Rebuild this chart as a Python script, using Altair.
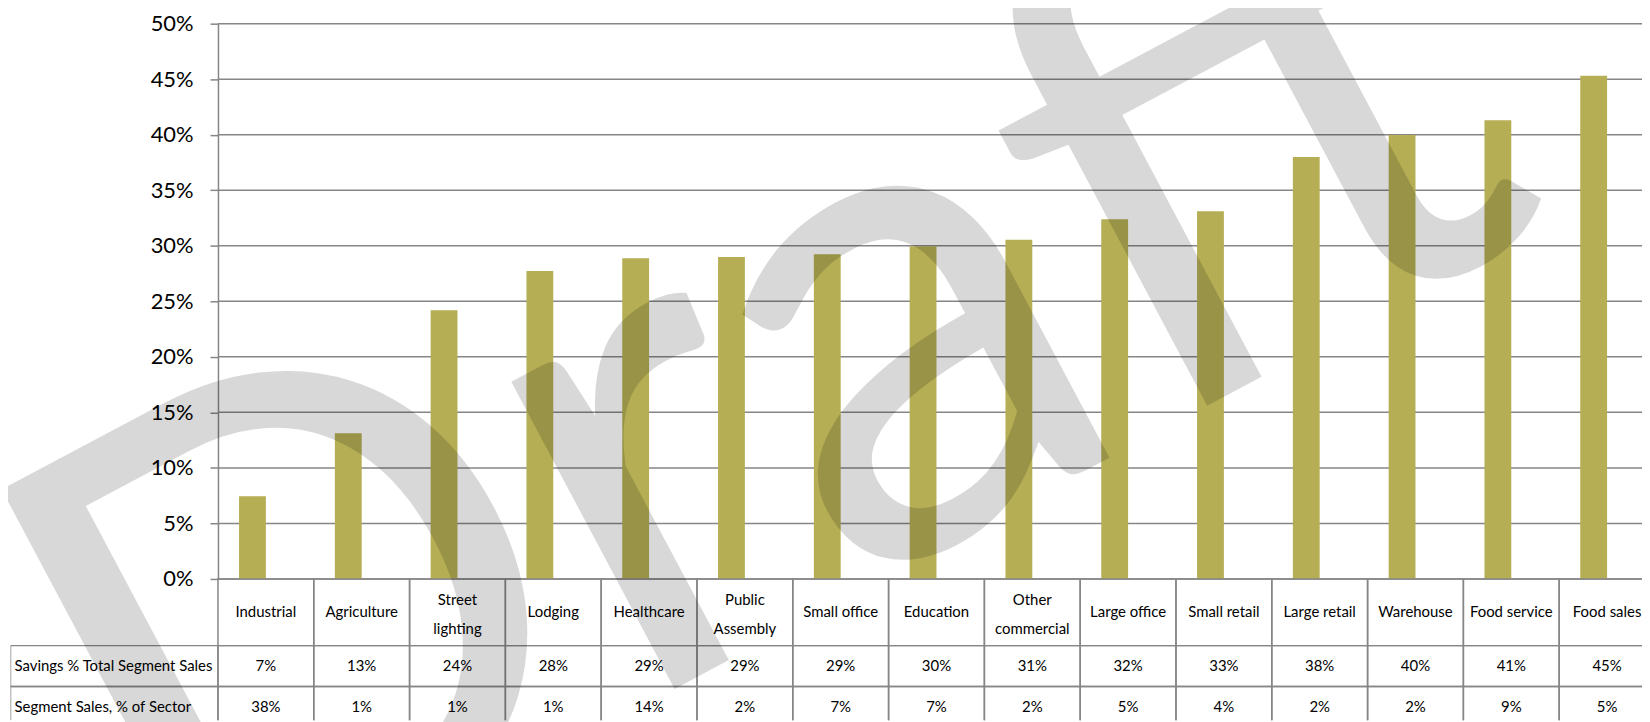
import altair as alt
import pandas as pd

# ---------------- data ----------------
categories = ["Industrial", "Agriculture", "Street lighting", "Lodging", "Healthcare",
              "Public Assembly", "Small office", "Education", "Other commercial",
              "Large office", "Small retail", "Large retail", "Warehouse",
              "Food service", "Food sales"]
category_labels = ["Industrial", "Agriculture", "Street\nlighting", "Lodging", "Healthcare",
                   "Public\nAssembly", "Small office", "Education", "Other\ncommercial",
                   "Large office", "Small retail", "Large retail", "Warehouse",
                   "Food service", "Food sales"]
savings_share = [0.0744, 0.1312, 0.242, 0.2774, 0.2888, 0.290, 0.2924, 0.2995,
                 0.3055, 0.324, 0.331, 0.380, 0.3997, 0.413, 0.453]
savings_row = ["7%", "13%", "24%", "28%", "29%", "29%", "29%", "30%", "31%",
               "32%", "33%", "38%", "40%", "41%", "45%"]
segment_row = ["38%", "1%", "1%", "1%", "14%", "2%", "7%", "7%", "2%",
               "5%", "4%", "2%", "2%", "9%", "5%"]
row_names = ["Savings % Total Segment Sales", "Segment Sales, % of Sector"]
y_tick_values = [0.0, 0.05, 0.10, 0.15, 0.20, 0.25, 0.30, 0.35, 0.40, 0.45, 0.50]
watermark = "Draft"

# ---------------- layout / style ----------------
COL_PX = 96.27          # width of one category column
AXIS_PX = 208.5         # width of the row-label column (left of the value axis)
WIDTH = 1639.5
HEIGHT = 700
PLOT_PX = 558           # height of the bar area
ROW_PX = 41             # height of one value row in the table
CAT_ROW = 67 / ROW_PX   # category row height in row units
LINE_H = 29             # line height of wrapped category names
X_MIN = -AXIS_PX / COL_PX
X_MAX = X_MIN + WIDTH / COL_PX
T_MAX = (HEIGHT - PLOT_PX) / ROW_PX
BAR_LO, BAR_HI = 0.22, 0.50

BAR_COLOR = "#B5AE54"
LINE_COLOR = "#868686"
FONT = "Lato"

x_scale = alt.Scale(domain=[X_MIN, X_MAX], nice=False, zero=False)
y_bar_scale = alt.Scale(domain=[0, 0.5], range=[PLOT_PX, 0], nice=False)
y_tab_scale = alt.Scale(domain=[0, T_MAX], range=[PLOT_PX, HEIGHT], nice=False, zero=False)

y_axis = alt.Axis(values=y_tick_values, format=".0%", offset=-AXIS_PX, orient="left",
                  grid=False, domainColor=LINE_COLOR, domainWidth=1.5,
                  tickColor=LINE_COLOR, tickWidth=1.5, tickSize=8,
                  labelFont=FONT, labelFontSize=22, labelColor="#000000",
                  labelPadding=17, title=None)

# ---------------- bars + gridlines ----------------
n = len(categories)
bars_df = pd.DataFrame({"category": categories, "value": savings_share, "i": range(n)})
bars_df["x0"] = bars_df["i"] + BAR_LO
bars_df["x1"] = bars_df["i"] + BAR_HI

grid_df = pd.DataFrame({"tick": y_tick_values})

grid_layer = alt.Chart(grid_df).mark_rule(color=LINE_COLOR, strokeWidth=1.5).encode(
    x=alt.X(datum=0, type="quantitative", scale=x_scale, axis=None),
    x2=alt.X2(datum=X_MAX),
    y=alt.Y("tick:Q", scale=y_bar_scale, axis=y_axis),
)

bars_layer = alt.Chart(bars_df).mark_bar(color=BAR_COLOR).encode(
    x=alt.X("x0:Q", scale=x_scale, axis=None),
    x2="x1:Q",
    y=alt.Y("value:Q", scale=y_bar_scale, axis=y_axis),
    y2=alt.Y2(datum=0),
)

upper = alt.layer(grid_layer, bars_layer)

# ---------------- data table ----------------
cells = []
for i in range(n):
    cells.append({"x0": i, "x1": i + 1, "y0": 0, "y1": CAT_ROW})
    cells.append({"x0": i, "x1": i + 1, "y0": CAT_ROW, "y1": CAT_ROW + 1})
    cells.append({"x0": i, "x1": i + 1, "y0": CAT_ROW + 1, "y1": CAT_ROW + 2})
cells.append({"x0": X_MIN, "x1": 0, "y0": CAT_ROW, "y1": CAT_ROW + 1})
cells.append({"x0": X_MIN, "x1": 0, "y0": CAT_ROW + 1, "y1": CAT_ROW + 2})
cells_df = pd.DataFrame(cells)

cells_layer = alt.Chart(cells_df).mark_rect(
    fillOpacity=0, stroke=LINE_COLOR, strokeWidth=1.5, clip=True
).encode(
    x=alt.X("x0:Q", scale=x_scale, axis=None), x2="x1:Q",
    y=alt.Y("y0:Q", scale=y_tab_scale, axis=None), y2="y1:Q",
)

cat_df = pd.DataFrame({"label": category_labels, "i": range(n)})
cat_df["x"] = cat_df["i"] + 0.5
cat_df["lines"] = cat_df["label"].str.count("\n") + 1
cat_df["y"] = CAT_ROW / 2 - (cat_df["lines"] - 1) * (12.5 / ROW_PX)

val_rows = []
for i in range(n):
    val_rows.append({"x": i + 0.5, "y": CAT_ROW + 0.5, "label": savings_row[i]})
    val_rows.append({"x": i + 0.5, "y": CAT_ROW + 1.5, "label": segment_row[i]})
val_df = pd.DataFrame(val_rows)

name_df = pd.DataFrame({"label": row_names, "x": [X_MIN, X_MIN],
                        "y": [CAT_ROW + 0.5, CAT_ROW + 1.5]})

text_style = dict(font=FONT, fontSize=15, color="#000000", baseline="middle")

cat_text = alt.Chart(cat_df).mark_text(align="center", lineBreak="\n", lineHeight=LINE_H,
                                       **text_style).encode(
    x=alt.X("x:Q", scale=x_scale, axis=None),
    y=alt.Y("y:Q", scale=y_tab_scale, axis=None),
    text="label:N",
)
val_text = alt.Chart(val_df).mark_text(align="center", **text_style).encode(
    x=alt.X("x:Q", scale=x_scale, axis=None),
    y=alt.Y("y:Q", scale=y_tab_scale, axis=None),
    text="label:N",
)
name_text = alt.Chart(name_df).mark_text(align="left", dx=4, **text_style).encode(
    x=alt.X("x:Q", scale=x_scale, axis=None),
    y=alt.Y("y:Q", scale=y_tab_scale, axis=None),
    text="label:N",
)

table = alt.layer(cells_layer, cat_text, val_text, name_text)

# ---------------- watermark ----------------
wm_df = pd.DataFrame({"label": [watermark]})
wm_layer = alt.Chart(wm_df).mark_text(
    font=FONT, fontSize=690, angle=332, align="center", baseline="alphabetic",
    color="#000000", opacity=0.15
).encode(
    text="label:N",
    x=alt.value(862),
    y=alt.value(565),
)

chart = alt.layer(upper, table, wm_layer).resolve_scale(y="independent").properties(
    width=WIDTH, height=HEIGHT,
    padding={"left": 2.5, "top": 14, "right": 0, "bottom": 0},
    autosize=alt.AutoSizeParams(type="none"),
    background="white",
).configure_view(stroke=None)

chart.save("out.html", embed_options={"renderer": "svg", "actions": False})
